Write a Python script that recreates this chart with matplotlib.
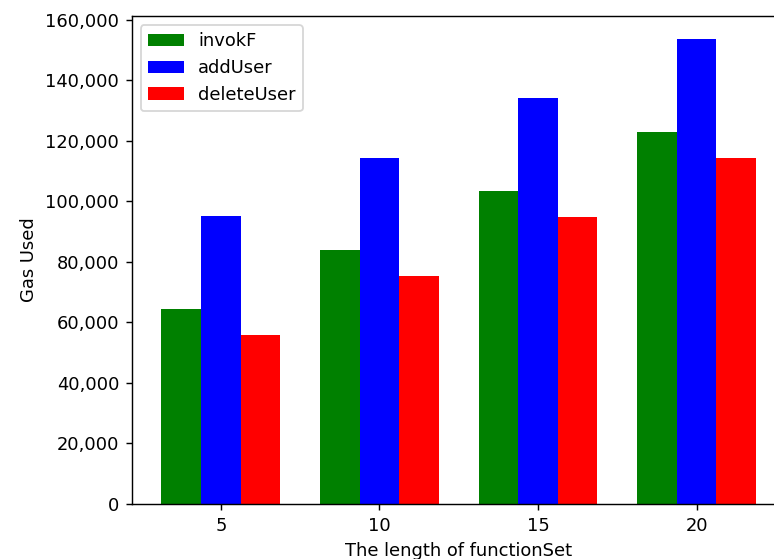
import numpy as np
import matplotlib
matplotlib.use("Agg")
import matplotlib.pyplot as plt
from matplotlib.ticker import StrMethodFormatter

# values
set_lengths = ["5", "10", "15", "20"]
invokF = [64400, 83950, 103450, 123050]
addUser = [95100, 114400, 134100, 153600]
deleteUser = [55750, 75250, 94750, 114300]

x = np.arange(len(set_lengths))
width = 0.25

fig = plt.figure(figsize=(6.0, 559 / 129), dpi=129)
# the reference is cropped on the right, so the axes run past the figure edge
ax = fig.add_axes([0.1702, 0.0984, 0.845, 0.873])

ax.bar(x - width, invokF, width, color="green", label="invokF")
ax.bar(x, addUser, width, color="blue", label="addUser")
ax.bar(x + width, deleteUser, width, color="red", label="deleteUser")

ax.set_xticks(x)
ax.set_xticklabels(set_lengths)
ax.yaxis.set_major_formatter(StrMethodFormatter("{x:,.0f}"))
ax.set_xlabel("The length of functionSet")
ax.set_ylabel("Gas Used")
ax.legend(loc="upper left")

fig.savefig("out.png", dpi=129)
